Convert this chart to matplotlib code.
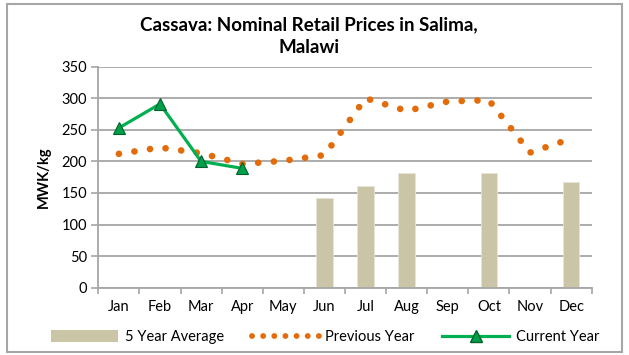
import numpy as np
import matplotlib
matplotlib.use("Agg")
import matplotlib.pyplot as plt
from matplotlib.lines import Line2D
from matplotlib.patches import Patch, Rectangle

plt.rcParams['font.family'] = ['Lato', 'DejaVu Sans']

months = ['Jan', 'Feb', 'Mar', 'Apr', 'May', 'Jun',
          'Jul', 'Aug', 'Sep', 'Oct', 'Nov', 'Dec']
# 5 year average only reported for some months
avg_5yr = [np.nan, np.nan, np.nan, np.nan, np.nan, 142,
           161, 181, np.nan, 181, np.nan, 168]
prev_year = [212, 222, 213, 196, 201, 210, 300, 280, 295, 297, 214, 236]
curr_year = [253, 291, 200, 189]

c_bar = '#CBC5A7'
c_prev = '#E36C0A'
c_curr = '#00B050'
c_grid = '#A6A6A6'

fig = plt.figure(figsize=(6.29, 3.55), dpi=100)
ax = fig.add_axes([0.1563, 0.1896, 0.7844, 0.6225])

x = np.arange(len(months))
ax.bar(x, avg_5yr, width=0.4, color=c_bar, edgecolor='#E8E5D8',
       linewidth=0.6, zorder=2)
ax.plot(x, prev_year, color=c_prev, linewidth=4.8,
        linestyle=(0, (0.01, 2.35)), dash_capstyle='round', zorder=3)
ax.plot(x[:len(curr_year)], curr_year, color=c_curr, linewidth=2.3,
        marker='^', markersize=8, markerfacecolor='#00A04A',
        markeredgecolor='#00602C', markeredgewidth=0.8, zorder=4)

ax.set_xlim(-0.5, 11.5)
ax.set_ylim(0, 350)
ax.set_yticks(np.arange(0, 351, 50))
ax.yaxis.grid(True, color=c_grid, linewidth=1.3, zorder=0)
ax.set_axisbelow(True)

ax.set_xticks(x)
ax.set_xticklabels(months, fontsize=10.5)
ax.set_xticks(np.arange(-0.5, 12, 1), minor=True)
ax.tick_params(axis='x', which='major', length=0, pad=9)
ax.tick_params(axis='x', which='minor', length=4, color=c_grid, width=1.2)
ax.tick_params(axis='y', length=5, color=c_grid, width=1.2, labelsize=10.5, pad=3)

for side in ['top', 'right']:
    ax.spines[side].set_visible(False)
for side in ['left', 'bottom']:
    ax.spines[side].set_color(c_grid)
    ax.spines[side].set_linewidth(1.3)

ax.set_ylabel('MWK/kg', fontsize=10.5, fontweight='bold', labelpad=8)

fig.text(0.491, 0.898, 'Cassava: Nominal Retail Prices in Salima,\nMalawi',
         ha='center', va='center', fontsize=13.5, fontweight='bold',
         linespacing=1.45)

handles = [
    Patch(facecolor=c_bar, edgecolor='none'),
    Line2D([], [], color=c_prev, linewidth=4.2, linestyle=(0, (0.01, 1.9)),
           dash_capstyle='round'),
    Line2D([], [], color=c_curr, linewidth=2.3, marker='^', markersize=8,
           markerfacecolor='#00A04A', markeredgecolor='#00602C'),
]
leg = fig.legend(handles, ['5 Year Average', 'Previous Year', 'Current Year'],
                 loc='center', bbox_to_anchor=(0.517, 0.05), ncol=3,
                 frameon=False, fontsize=10.5, handlelength=4.6,
                 handleheight=0.9, columnspacing=1.9, handletextpad=0.45)

# outer chart border
fig.patches.append(Rectangle((0.011, 0.008), 0.978, 0.98, transform=fig.transFigure,
                             fill=False, edgecolor='#A6A6A6', linewidth=1.5))

fig.savefig('out.png', dpi=100)
